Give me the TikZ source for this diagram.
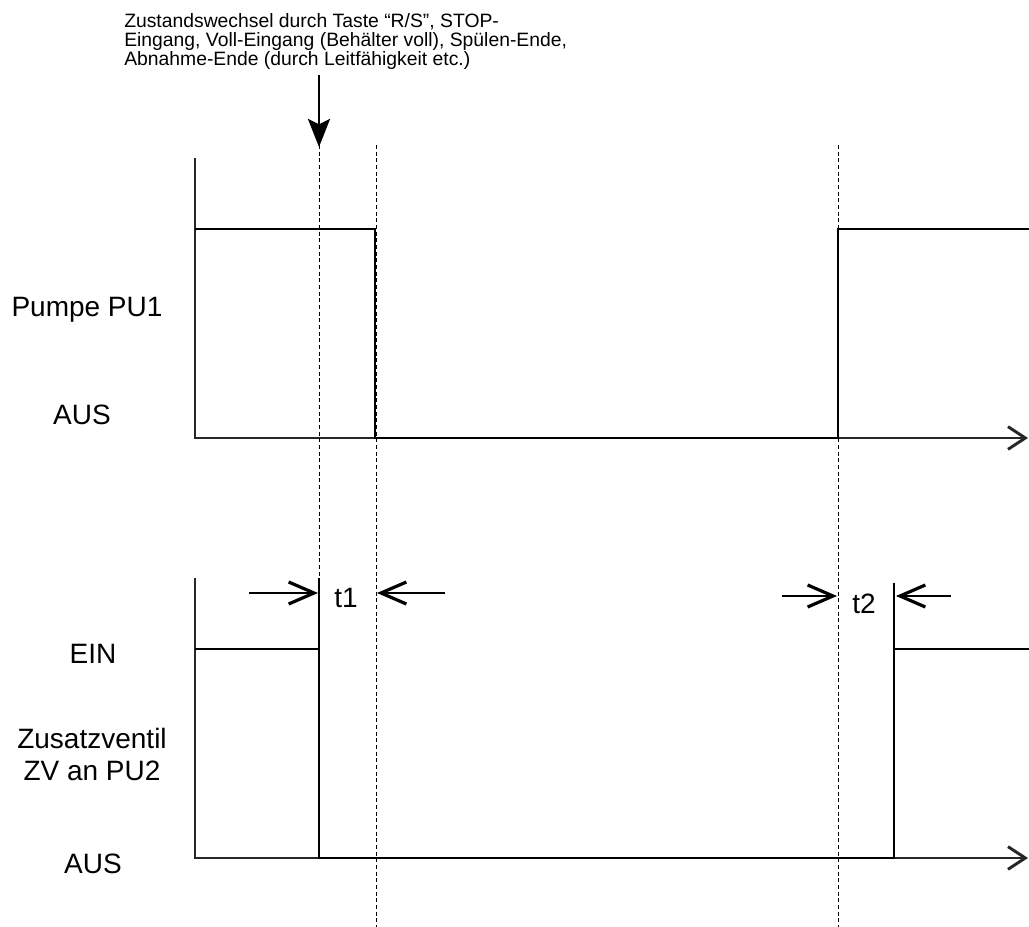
\documentclass[tikz,border=0pt]{standalone}
\usepackage{fontspec}
\setmainfont{Liberation Sans}
\usetikzlibrary{arrows.meta}

\begin{document}
\begin{tikzpicture}[x=0.75pt, y=-0.75pt,
  axis/.style={line width=1.5pt, black!85,
               -{Straight Barb[length=13pt, width=17pt, line width=2.2pt]}},
  sig/.style={line width=2.2pt, black},
  guide/.style={line width=0.7pt, dash pattern=on 3pt off 2pt},
  tarr/.style={line width=2.2pt, -{Straight Barb[length=19pt, width=16.5pt, line width=2.4pt]}},
  lbl/.style={font=\fontsize{21}{24}\selectfont, inner sep=0pt,
              anchor=base, align=center}]
  \useasboundingbox (0,0) rectangle (1029,927);

  % axes
  \coordinate (y1top) at (195,158);
  \coordinate (o1) at (195,438);
  \coordinate (x1end) at (1028,438);
  \coordinate (y2top) at (195,578);
  \coordinate (o2) at (195,858);
  \coordinate (x2end) at (1028,858);
  \draw[axis] (y1top) -- (o1) -- (x1end);
  \draw[axis] (y2top) -- (o2) -- (x2end);

  % guide lines
  \draw[guide] (319,145) -- (319,578);
  \draw[guide] (376,145) -- (376,927);
  \draw[guide] (838,145) -- (838,927);

  % Pumpe PU1
  \draw[sig] (195,229) -- (375,229) -- (375,438) -- (838,438) -- (838,229) -- (1029,229);
  % Zusatzventil
  \draw[sig] (195,649) -- (319,649) -- (319,858) -- (894,858) -- (894,649) -- (1029,649);
  \draw[sig] (319,578) -- (319,649);
  \draw[sig] (894,583) -- (894,649);

  % trigger
  \node[anchor=north west, inner sep=0pt, align=left,
        font=\fontsize{14.5}{14.5}\selectfont] (info) at (124,13)
    {Zustandswechsel durch Taste “R/S”, STOP-\\
     Eingang, Voll-Eingang (Behälter voll), Spülen-Ende,\\
     Abnahme-Ende (durch Leitfähigkeit etc.)};
  \coordinate (trigtop) at (319,75);
  \coordinate (trigtip) at (319,147);
  \draw[line width=2.2pt, -{Stealth[length=21pt, width=16.5pt, inset=4pt]}] (trigtop) -- (trigtip);

  % labels
  \node[lbl] (pumpe) at (87,317) {Pumpe PU1};
  \node[lbl] (aus1) at (82,425) {AUS};
  \node[lbl] (ein) at (93,663) {EIN};
  \node[lbl, anchor=north] (zv) at (92,728) {Zusatzventil\\ZV an PU2};
  \node[lbl] (aus2) at (93,873) {AUS};

  % delays
  \node[lbl, anchor=base west] (t1) at (334,607) {t1};
  \node[lbl, anchor=base west] (t2) at (852,613) {t2};
  \coordinate (t1a) at (249,593);
  \coordinate (t1b) at (318,593);
  \coordinate (t1c) at (445,593);
  \coordinate (t1d) at (377,593);
  \coordinate (t2a) at (782,596);
  \coordinate (t2b) at (837,596);
  \coordinate (t2c) at (951,596);
  \coordinate (t2d) at (896,596);
  \draw[tarr] (t1a) -- (t1b);
  \draw[tarr] (t1c) -- (t1d);
  \draw[tarr] (t2a) -- (t2b);
  \draw[tarr] (t2c) -- (t2d);
\end{tikzpicture}
\end{document}
